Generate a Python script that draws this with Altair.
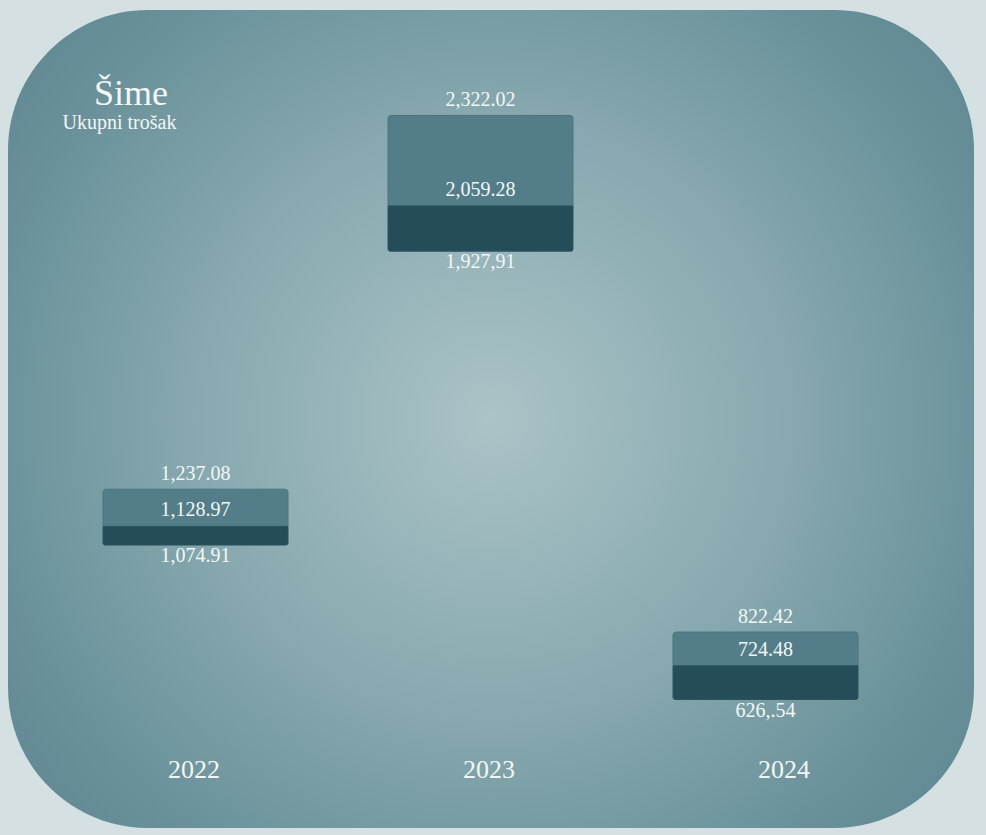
import altair as alt
import pandas as pd

# Yearly spend summary: lowest, median and highest total per year
years = ["2022", "2023", "2024"]
mins = [1074.91, 1927.91, 626.54]
medians = [1128.97, 2059.28, 724.48]
maxs = [1237.08, 2322.02, 822.42]

min_labels = ["1,074.91", "1,927,91", "626,.54"]
median_labels = ["1,128.97", "2,059.28", "724.48"]
max_labels = ["1,237.08", "2,322.02", "822.42"]

title_text = "Šime"
subtitle_text = "Ukupni trošak"

W, H = 966, 818
FONT = "Liberation Serif"
TEXT_COLOR = "#f3f6f6"

df = pd.DataFrame({
    "year": years,
    "min": mins,
    "median": medians,
    "max": maxs,
    "min_label": min_labels,
    "median_label": median_labels,
    "max_label": max_labels,
})

x_bar = alt.X("year:N", axis=None,
              scale=alt.Scale(type="point", range=[187.5, 757.5], padding=0))
y_scale = alt.Scale(domain=[253.6, 2628], nice=False, zero=False)

# rounded panel with a soft radial glow
panel = alt.Chart(pd.DataFrame({"k": [0]})).mark_rect(
    cornerRadius=140,
    fill={
        "gradient": "radial",
        "x1": 0.5, "y1": 0.5, "r1": 0,
        "x2": 0.5, "y2": 0.5, "r2": 0.7,
        "stops": [
            {"offset": 0, "color": "#aac3c7"},
            {"offset": 0.45, "color": "#86a8ae"},
            {"offset": 0.75, "color": "#6a919a"},
            {"offset": 1, "color": "#5a838d"},
        ],
    },
).encode(
    x=alt.value(0), x2=alt.value(W), y=alt.value(0), y2=alt.value(H)
)

base = alt.Chart(df)

upper = base.mark_bar(
    width=185, color="#537e89", stroke="#4b7580", strokeWidth=1,
    cornerRadiusTopLeft=3, cornerRadiusTopRight=3,
).encode(
    x=x_bar,
    y=alt.Y("median:Q", scale=y_scale, axis=None),
    y2="max:Q",
)

lower = base.mark_bar(
    width=185, color="#244c59", stroke="#2c5561", strokeWidth=1,
    cornerRadiusBottomLeft=2, cornerRadiusBottomRight=2,
).encode(
    x=x_bar,
    y=alt.Y("min:Q", scale=y_scale, axis=None),
    y2="median:Q",
)

def value_text(field, label, dy):
    return base.mark_text(
        font=FONT, fontSize=20, color=TEXT_COLOR, baseline="middle",
        align="center", dy=dy,
    ).encode(
        x=x_bar,
        y=alt.Y(f"{field}:Q", scale=y_scale, axis=None),
        text=f"{label}:N",
    )

max_text = value_text("max", "max_label", -15)
median_text = value_text("median", "median_label", -16)
min_text = value_text("min", "min_label", 11)

year_text = base.mark_text(
    font=FONT, fontSize=26, color=TEXT_COLOR, baseline="alphabetic",
    align="center",
).encode(
    x=alt.X("year:N", axis=None,
            scale=alt.Scale(type="point", range=[186, 776], padding=0)),
    y=alt.value(768),
    text="year:N",
)

head = alt.Chart(pd.DataFrame({"t": [title_text]})).mark_text(
    font=FONT, fontSize=36, color=TEXT_COLOR, baseline="alphabetic", align="center",
).encode(x=alt.value(123), y=alt.value(95), text="t:N")

sub = alt.Chart(pd.DataFrame({"t": [subtitle_text]})).mark_text(
    font=FONT, fontSize=20, color=TEXT_COLOR, baseline="alphabetic", align="center",
).encode(x=alt.value(111.5), y=alt.value(119), text="t:N")

bars = alt.layer(upper, lower, max_text, median_text, min_text)

chart = alt.layer(panel, bars, year_text, head, sub).resolve_scale(
    x="independent"
).properties(
    width=W, height=H,
    autosize=alt.AutoSizeParams(type="none"),
    padding={"left": 8, "top": 10, "right": 12, "bottom": 7},
    background="#d5e0e3",
).configure_view(stroke=None)

chart.save("out.html", embed_options={"renderer": "svg", "actions": False})
